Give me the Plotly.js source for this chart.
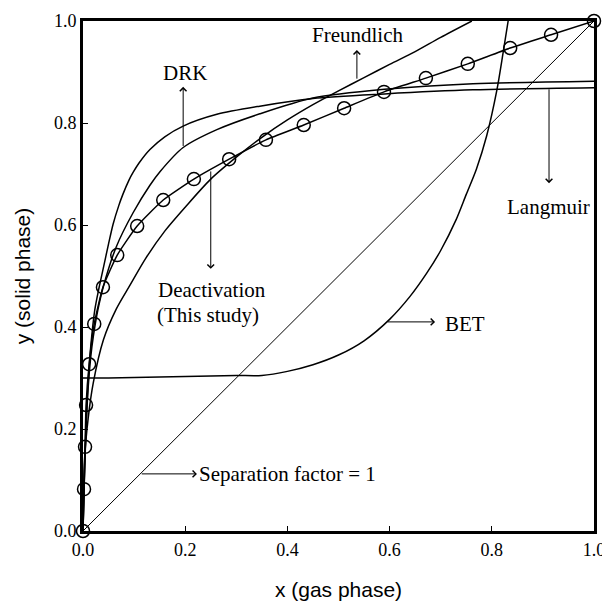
<!DOCTYPE html>
<html>
<head>
<meta charset="utf-8">
<script src="https://cdn.plot.ly/plotly-3.0.1.min.js"></script>
<style>
  html, body { margin: 0; padding: 0; background: #fff; }
  #chart { width: 602px; height: 601px; }
</style>
</head>
<body>
<div id="chart"></div>
<script>
// Deactivation (this study) — open circles joined by a smooth line
const deactX = [0, 0.002, 0.004, 0.006, 0.012, 0.022, 0.039, 0.067, 0.106, 0.157, 0.217, 0.286, 0.358, 0.432, 0.511, 0.589, 0.671, 0.753, 0.836, 0.916, 1.0];
const deactY = [0, 0.082, 0.165, 0.247, 0.327, 0.406, 0.478, 0.541, 0.598, 0.649, 0.690, 0.729, 0.767, 0.796, 0.829, 0.861, 0.888, 0.916, 0.947, 0.973, 1.0];

// Langmuir curve
const langX = [0, 0.003, 0.006, 0.01, 0.015, 0.023, 0.031, 0.039, 0.05, 0.059, 0.07, 0.078, 0.09, 0.098, 0.11, 0.131, 0.16, 0.196, 0.262, 0.346, 0.45, 0.59, 0.763, 1.0];
const langY = [0, 0.12, 0.21, 0.29, 0.36, 0.433, 0.475, 0.512, 0.563, 0.602, 0.638, 0.660, 0.688, 0.703, 0.722, 0.748, 0.773, 0.794, 0.817, 0.833, 0.848, 0.857, 0.865, 0.869];

// DRK curve
const drkX = [0, 0.003, 0.006, 0.01, 0.015, 0.02, 0.029, 0.04, 0.065, 0.098, 0.131, 0.151, 0.196, 0.262, 0.346, 0.45, 0.59, 0.763, 1.0];
const drkY = [0, 0.11, 0.20, 0.28, 0.34, 0.38, 0.433, 0.48, 0.557, 0.624, 0.678, 0.705, 0.752, 0.787, 0.818, 0.849, 0.866, 0.877, 0.882];

// Freundlich curve
const freX = [0, 0.003, 0.01, 0.02, 0.04, 0.065, 0.092, 0.123, 0.16, 0.2, 0.25, 0.3, 0.35, 0.4, 0.45, 0.5, 0.55, 0.6, 0.65, 0.7, 0.761];
const freY = [0, 0.14, 0.22, 0.29, 0.375, 0.435, 0.482, 0.535, 0.588, 0.635, 0.690, 0.733, 0.772, 0.806, 0.836, 0.863, 0.889, 0.915, 0.940, 0.968, 1.0];

// BET curve
const betX = [0, 0.05, 0.1, 0.15, 0.2, 0.25, 0.3, 0.35, 0.4, 0.45, 0.5, 0.55, 0.6, 0.64, 0.673, 0.7, 0.73, 0.75, 0.77, 0.79, 0.81, 0.822, 0.832];
const betY = [0.300, 0.300, 0.301, 0.302, 0.303, 0.304, 0.305, 0.305, 0.313, 0.326, 0.345, 0.373, 0.415, 0.46, 0.506, 0.55, 0.61, 0.66, 0.71, 0.775, 0.865, 0.937, 1.0];

// Separation factor = 1 (diagonal)
const sepX = [0, 1];
const sepY = [0, 1];

const tickVals = [0, 0.2, 0.4, 0.6, 0.8, 1.0];
const tickText = ["0.0", "0.2", "0.4", "0.6", "0.8", "1.0"];

const black = "#000000";
const curveLine = { color: black, width: 1.5, shape: "spline", smoothing: 0.8 };

const traces = [
  { x: sepX, y: sepY, mode: "lines", line: { color: black, width: 1 }, name: "Separation factor = 1", hoverinfo: "skip" },
  { x: langX, y: langY, mode: "lines", line: curveLine, name: "Langmuir" },
  { x: drkX, y: drkY, mode: "lines", line: curveLine, name: "DRK" },
  { x: freX, y: freY, mode: "lines", line: curveLine, name: "Freundlich" },
  { x: betX, y: betY, mode: "lines", line: curveLine, name: "BET" },
  { x: deactX, y: deactY, mode: "lines+markers", name: "Deactivation (This study)",
    line: { color: black, width: 1.5, shape: "spline", smoothing: 0.5 },
    marker: { symbol: "circle-open", size: 13, color: black, line: { width: 1.5, color: black } },
    cliponaxis: false }
];

const serif = "'Times New Roman', 'Liberation Serif', serif";
const sans = "Arial, 'Liberation Sans', sans-serif";

function label(text, x, y, xanchor) {
  return { text: text, x: x, y: y, xref: "x", yref: "y", showarrow: false,
           xanchor: xanchor || "center", yanchor: "middle",
           font: { family: serif, size: 21, color: black } };
}
function arrow(x0, y0, x1, y1) {
  // tail at (x0,y0), head at (x1,y1)
  return { text: "", x: x1, y: y1, ax: x0, ay: y0, xref: "x", yref: "y", axref: "x", ayref: "y",
           showarrow: true, arrowhead: 4, arrowsize: 1.3, arrowwidth: 1, arrowcolor: black,
           standoff: 0, startstandoff: 0 };
}

const layout = {
  width: 602, height: 601,
  margin: { l: 83, r: 8, t: 21, b: 70 },
  paper_bgcolor: "#ffffff", plot_bgcolor: "#ffffff",
  showlegend: false,
  xaxis: {
    range: [0, 1], tickvals: tickVals, ticktext: tickText,
    showgrid: false, zeroline: false,
    showline: true, mirror: true, linewidth: 3, linecolor: black,
    ticks: "inside", ticklen: 5, tickwidth: 1, tickcolor: black,
    ticklabeloverflow: "allow",
    tickfont: { family: serif, size: 18, color: black },
    title: { text: "x (gas phase)", font: { family: sans, size: 21, color: black }, standoff: 26 }
  },
  yaxis: {
    range: [0, 1], tickvals: tickVals, ticktext: tickText,
    showgrid: false, zeroline: false,
    showline: true, mirror: true, linewidth: 3, linecolor: black,
    ticks: "inside", ticklen: 5, tickwidth: 1, tickcolor: black,
    ticklabeloverflow: "allow",
    tickfont: { family: serif, size: 18, color: black },
    title: { text: "y (solid phase)", font: { family: sans, size: 21, color: black }, standoff: 18 }
  },
  annotations: [
    label("DRK", 0.199, 0.898),
    label("Freundlich", 0.538, 0.972),
    label("Langmuir", 0.910, 0.636),
    label("Deactivation", 0.253, 0.472),
    label("(This study)", 0.245, 0.424),
    label("BET", 0.705, 0.406, "left"),
    label("Separation factor = 1", 0.223, 0.111, "left"),
    arrow(0.196, 0.752, 0.196, 0.871),
    arrow(0.536, 0.884, 0.536, 0.943),
    arrow(0.912, 0.869, 0.912, 0.682),
    arrow(0.250, 0.708, 0.250, 0.514),
    arrow(0.593, 0.410, 0.689, 0.410),
    arrow(0.112, 0.112, 0.223, 0.112)
  ]
};

Plotly.newPlot("chart", traces, layout, { displayModeBar: false, staticPlot: true });
</script>
</body>
</html>
